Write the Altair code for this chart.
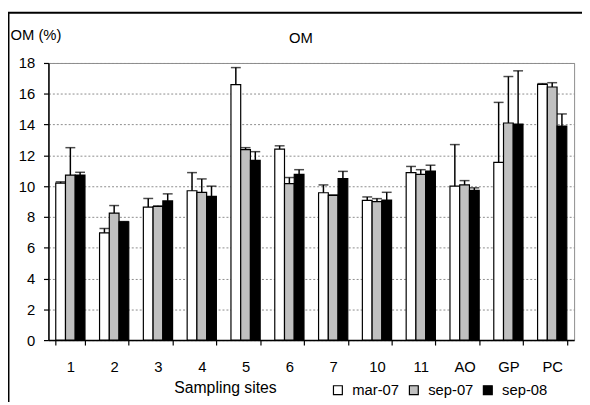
import altair as alt
import pandas as pd

sites = ["1", "2", "3", "4", "5", "6", "7", "10", "11", "AO", "GP", "PC"]
seasons = ["mar-07", "sep-07", "sep-08"]

mar07 = [10.2, 6.97, 8.64, 9.7, 16.6, 12.41, 9.57, 9.08, 10.88, 10.0, 11.54, 16.61]
sep07 = [10.72, 8.25, 8.68, 9.6, 12.37, 10.17, 9.4, 9.0, 10.77, 10.08, 14.1, 16.44]
sep08 = [10.72, 7.68, 9.04, 9.34, 11.68, 10.77, 10.49, 9.1, 10.98, 9.72, 14.03, 13.9]

mar07_sd = [0.08, 0.28, 0.56, 1.18, 1.1, 0.21, 0.51, 0.22, 0.4, 2.7, 3.9, 0.05]
sep07_sd = [1.78, 0.49, 0.04, 0.87, 0.13, 0.39, 0.03, 0.19, 0.3, 0.28, 3.02, 0.28]
sep08_sd = [0.18, 0.02, 0.46, 0.66, 0.56, 0.3, 0.47, 0.5, 0.38, 0.17, 3.46, 0.79]

y_ticks = [0, 2, 4, 6, 8, 10, 12, 14, 16, 18]

colors = ["white", "#c0c0c0", "black"]
FONT = "Liberation Sans"

rows = []
for season, vals, sds in zip(seasons, [mar07, sep07, sep08], [mar07_sd, sep07_sd, sep08_sd]):
    for s, v, e in zip(sites, vals, sds):
        rows.append({"site": s, "season": season, "value": v, "top": v + e})
df = pd.DataFrame(rows)

x_axis = alt.Axis(
    title="Sampling sites",
    labelAngle=0,
    tickBand="extent",
    ticks=True,
    tickSize=5,
    tickColor="black",
    tickWidth=1.2,
    tickOpacity=1,
    labelPadding=15,
    labelOverlap=False,
    titleX=179,
    titleY=53,
    titleFontSize=16,
    titleBaseline="alphabetic",
    titleAlign="center",
)
y_axis = alt.Axis(
    values=y_ticks,
    labelOverlap=False,
    title="OM (%)",
    titleAngle=0,
    titleAlign="left",
    titleBaseline="alphabetic",
    titleX=-39,
    titleY=-23.5,
    grid=True,
    gridColor="#8c8c8c",
    gridDash=[2, 2],
    tickSize=5,
    tickColor="black",
    tickWidth=1.2,
    labelPadding=9,
)
x_scale = alt.Scale(paddingInner=0.333, paddingOuter=0.167)
xo_enc = alt.XOffset("season:N", sort=seasons, scale=alt.Scale(paddingInner=0, paddingOuter=0))
y_scale = alt.Scale(domain=[0, 18], nice=False)

base = alt.Chart(df)

bars = base.mark_bar(stroke="black", strokeWidth=1.2).encode(
    x=alt.X("site:N", sort=sites, scale=x_scale, axis=x_axis),
    xOffset=xo_enc,
    y=alt.Y("value:Q", scale=y_scale, axis=y_axis, title="OM (%)"),
    fill=alt.Fill(
        "season:N",
        sort=seasons,
        scale=alt.Scale(domain=seasons, range=colors),
        legend=alt.Legend(
            title=None,
            orient="none",
            direction="horizontal",
            legendX=286,
            legendY=324,
            symbolType="square",
            symbolSize=81,
            symbolStrokeColor="black",
            symbolStrokeWidth=1.2,
            labelFontSize=15,
            labelFont=FONT,
            labelColor="black",
            labelOffset=7,
            columnPadding=7,
            padding=0,
        ),
    ),
)

err = base.mark_rule(color="black", strokeWidth=1.5).encode(
    x=alt.X("site:N", sort=sites, scale=x_scale, axis=x_axis),
    xOffset=xo_enc,
    y=alt.Y("value:Q", scale=y_scale, axis=y_axis, title="OM (%)"),
    y2="top:Q",
)

caps = base.mark_tick(color="black", thickness=1.5, size=10, orient="horizontal").encode(
    x=alt.X("site:N", sort=sites, scale=x_scale, axis=x_axis),
    xOffset=xo_enc,
    y=alt.Y("top:Q", scale=y_scale, axis=y_axis, title="OM (%)"),
)

one = pd.DataFrame({"t": ["OM"]})
title = alt.Chart(one).mark_text(
    font=FONT, fontSize=15, align="center", baseline="alphabetic", color="black"
).encode(x=alt.value(256), y=alt.value(-20), text="t:N")

frame_v = alt.Chart(one).mark_rule(color="black", strokeWidth=2).encode(
    x=alt.value(-40.5), y=alt.value(-51), y2=alt.value(345)
)
frame_h = alt.Chart(one).mark_rule(color="black", strokeWidth=2).encode(
    x=alt.value(-41.5), x2=alt.value(545), y=alt.value(-51)
)

chart = (
    alt.layer(bars, err, caps, title, frame_v, frame_h)
    .properties(
        width=533,
        height=281,
        autosize=alt.AutoSizeParams(type="none"),
        padding={"left": 41, "top": 53, "right": 8, "bottom": 60},
        background="white",
    )
    .configure_view(stroke="#8c8c8c", strokeWidth=1)
    .configure_axis(
        labelFont=FONT,
        titleFont=FONT,
        labelFontSize=15,
        titleFontSize=15,
        titleFontWeight="normal",
        labelColor="black",
        titleColor="black",
        domainColor="black",
        domainWidth=1.5,
    )
    .configure_axisX(grid=False, ticks=True)
)

chart.save("out.html", embed_options={"renderer": "svg", "actions": False})
